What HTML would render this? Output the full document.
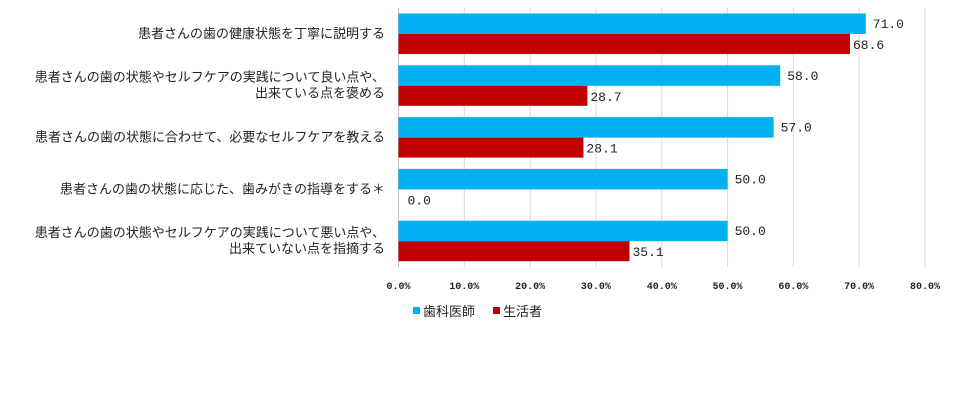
<!DOCTYPE html>
<html><head><meta charset="utf-8"><style>
body{margin:0;background:#fff;width:955px;height:412px;overflow:hidden;font-family:"Liberation Sans","Noto Sans CJK JP",sans-serif}
</style></head><body>
<svg id="chart" width="955" height="412" xmlns="http://www.w3.org/2000/svg"></svg>
<script>
const categories=[["患者さんの歯の健康状態を丁寧に説明する"],["患者さんの歯の状態やセルフケアの実践について良い点や、","出来ている点を褒める"],["患者さんの歯の状態に合わせて、必要なセルフケアを教える"],["患者さんの歯の状態に応じた、歯みがきの指導をする＊"],["患者さんの歯の状態やセルフケアの実践について悪い点や、","出来ていない点を指摘する"]];
const dentists=[71.0,58.0,57.0,50.0,50.0];
const consumers=[68.6,28.7,28.1,0.0,35.1];
const ticks=[0,10,20,30,40,50,60,70,80];
const seriesNames=["歯科医師","生活者"];
const svg=document.getElementById('chart');const NS='http://www.w3.org/2000/svg';
const x0=398.5,x1=925,yTop=8,yBot=267;
const xs=v=>x0+(v/80)*(x1-x0);
const gh=(yBot-yTop)/categories.length;
function mk(t,a,txt){const e=document.createElementNS(NS,t);for(const k in a)e.setAttribute(k,a[k]);if(txt!==undefined)e.textContent=txt;svg.appendChild(e);return e;}
ticks.forEach(t=>{
const g=mk('line',{x1:xs(t),x2:xs(t),y1:yTop,y2:yBot,stroke:t===0?'#bfbfbf':'#d9d9d9','stroke-width':1});


const l=mk('text',{x:xs(t),y:289,'text-anchor':'middle','font-size':10,'font-weight':'bold','font-family':'Liberation Mono,monospace',fill:'#222'},t.toFixed(1)+'%');


});
categories.forEach((c,i)=>{
const gy=yTop+i*gh;
const b=mk('rect',{x:x0,y:gy+5.5,width:xs(dentists[i])-x0,height:20.5,fill:'#00b0f0'});


const r=mk('rect',{x:x0,y:gy+26,width:xs(consumers[i])-x0,height:20,fill:'#c00000'});


const v1=mk('text',{x:xs(dentists[i])+7,y:gy+20,'font-size':13,'font-family':'Liberation Mono,monospace',fill:'#222'},dentists[i].toFixed(1));


const v2=mk('text',{x:xs(consumers[i])+(consumers[i]===0?9:3),y:gy+41,'font-size':13,'font-family':'Liberation Mono,monospace',fill:'#222'},consumers[i].toFixed(1));


const cy=gy+gh/2+4-(c.length-1)*8;
c.forEach((line,j)=>{
const t=mk('text',{x:385,y:cy+j*16,'text-anchor':'end','font-size':13,fill:'#222'},line);


});
});
const colors=['#00b0f0','#c00000'];let lx=413;
seriesNames.forEach((n,i)=>{
const s=mk('rect',{x:lx,y:307,width:7,height:7,fill:colors[i]});


const t=mk('text',{x:lx+10,y:316,'font-size':13,fill:'#222'},n);


lx+=80;
});
</script>
</body></html>
